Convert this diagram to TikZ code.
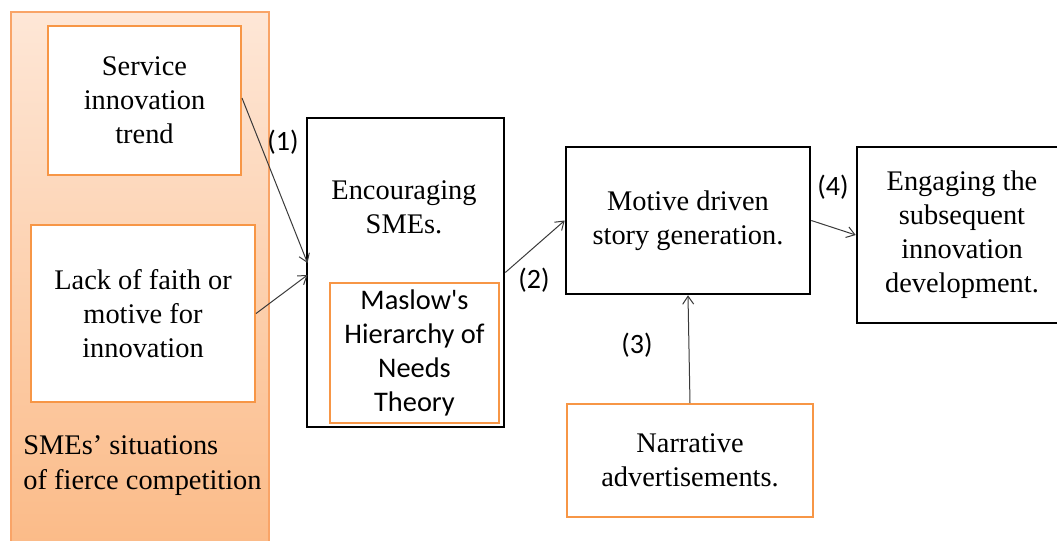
\documentclass[tikz,border=0pt]{standalone}
\usepackage{fontspec}
\setmainfont{Liberation Serif}
\newfontfamily\calibri[Ligatures=TeXOff]{Carlito}
\usetikzlibrary{arrows.meta}
\definecolor{accent}{HTML}{F79646}
\definecolor{paneltop}{HTML}{FEE7D7}
\definecolor{panelbot}{HTML}{FBBB88}
\definecolor{panelrim}{HTML}{F9A467}
\definecolor{arrowgray}{HTML}{3A3A3A}
\begin{document}
\begin{tikzpicture}[x=0.5pt,y=-0.5pt,
  txt/.style={font=\fontsize{14.2}{17}\selectfont, align=center, inner sep=0pt},
  sanstxt/.style={font=\calibri\fontsize{14.2}{17}\selectfont, align=center, inner sep=0pt},
  orangebox/.style={draw=accent, line width=1pt, fill=white, inner sep=0pt},
  blackbox/.style={draw=black, line width=1.3pt, fill=white, inner sep=0pt},
  panelbox/.style={draw=panelrim, line width=0.7pt, top color=paneltop, bottom color=panelbot, inner sep=0pt},
  flow/.style={draw=arrowgray, line width=0.5pt, -{Straight Barb[length=4pt,width=5.5pt]}},
  lbl/.style={font=\calibri\fontsize{14}{16}\selectfont, inner sep=0pt}
]
\useasboundingbox (0,0) rectangle (1057,541);

% background panel for the SME situations
\node[panelbox, minimum width=129pt, minimum height=266pt] (panel) at (140,278) {};
\node[txt, align=left, anchor=west] (paneltext) at (23,466)
  {SMEs’ situations\\[0.5pt]of fierce competition};

% inputs
\node[orangebox, txt, minimum width=96.5pt, minimum height=74.5pt] (serv) at (144.5,100.5)
  {Service\\innovation\\trend};
\node[orangebox, txt, minimum width=112pt, minimum height=88.5pt] (lack) at (143,313.5)
  {Lack of faith or\\motive for\\innovation};

% encouraging SMEs with the theory box inside
\node[blackbox, minimum width=98.5pt, minimum height=154.5pt] (enc) at (405.5,272.5) {};
\node[txt] (enctext) at (404,207) {Encouraging\\SMEs.};
\node[orangebox, sanstxt, minimum width=84.5pt, minimum height=70pt] (mas) at (414.5,353)
  {Maslow's\\Hierarchy of\\Needs\\Theory};

% story generation and outcome
\node[blackbox, txt, minimum width=122pt, minimum height=73.5pt] (mot) at (688,220.5)
  {Motive driven\\story generation.};
\node[blackbox, txt, minimum width=105pt, minimum height=88pt] (eng) at (962,235)
  {Engaging the\\subsequent\\innovation\\development.};
\node[orangebox, txt, minimum width=123pt, minimum height=56.5pt] (narr) at (690,460.5)
  {Narrative\\advertisements.};

% connectors
\coordinate (in1) at (307.5,263);
\coordinate (in2) at (307.5,275);
\draw[flow] (serv.east |- 0,98) -- (in1);
\draw[flow] (lack.east) -- (in2);
\draw[flow] (enc.east) -- (mot.west);
\draw[flow] (narr.north) -- (mot.south);
\draw[flow] (mot.east) -- (eng.west |- 0,235);

% step labels
\node[lbl] (l1) at (283,142) {(1)};
\node[lbl] (l2) at (534,280) {(2)};
\node[lbl] (l3) at (637,345) {(3)};
\node[lbl] (l4) at (833,187) {(4)};
\end{tikzpicture}
\end{document}
